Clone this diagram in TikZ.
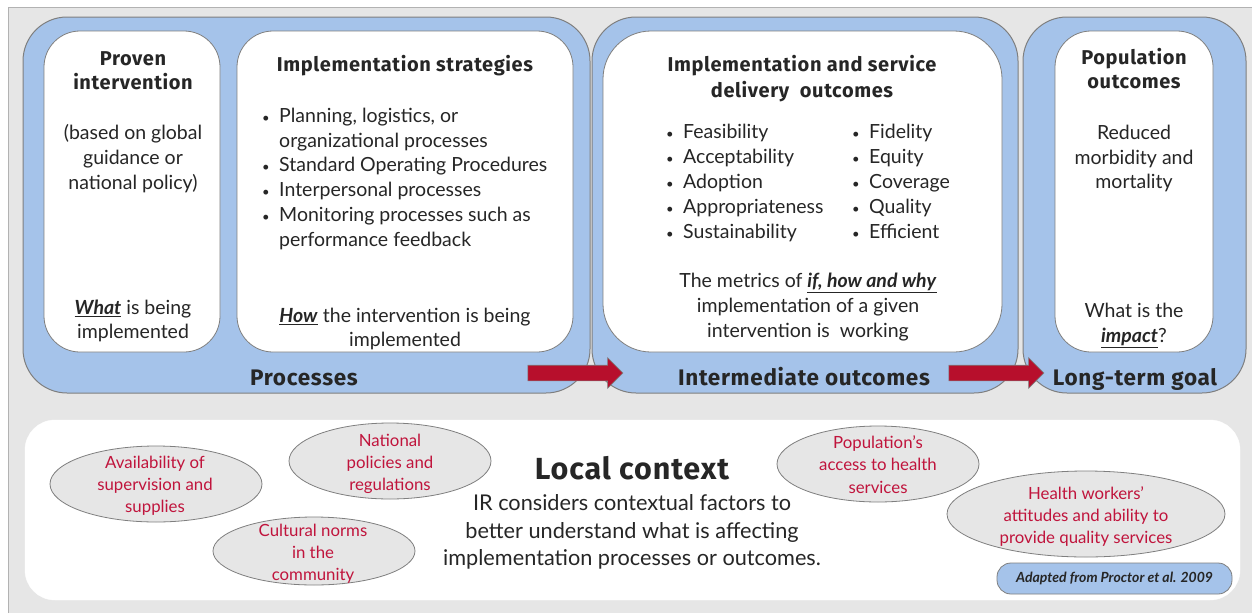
\documentclass[tikz,border=0pt]{standalone}
\usepackage{fontspec}
\setmainfont{Lato}
\newfontfamily\hdfont{Fira Sans}[LetterSpace=3]
\usetikzlibrary{shapes.geometric,shapes.arrows}
\definecolor{bggray}{HTML}{E6E6E6}
\definecolor{boxblue}{HTML}{A5C3EA}
\definecolor{edgegray}{HTML}{7F7F7F}
\definecolor{factred}{HTML}{C0143C}
\definecolor{arrred}{HTML}{B70F2C}
\definecolor{ink}{HTML}{262626}
\newcommand\bul{{\fontsize{13}{13}\selectfont\textbullet}}

\begin{document}
\begin{tikzpicture}[x=1pt,y=-1pt,
	bluebox/.style={draw=edgegray, fill=boxblue, line width=1pt, rounded corners=44pt},
	whitebox/.style={draw=edgegray, fill=white, line width=0.8pt, rounded corners=36pt},
	hd/.style={text=ink, font=\hdfont\bfseries\fontsize{20}{22}\selectfont, inner sep=0pt, anchor=mid, yshift=-5pt},
	txt/.style={text=ink, font=\fontsize{19.5}{22}\selectfont, inner sep=0pt, anchor=mid, yshift=-5pt},
	lbl/.style={text=ink, font=\hdfont\bfseries\fontsize{22.5}{24}\selectfont, inner sep=0pt, anchor=mid, yshift=-6pt},
	factor/.style={ellipse, draw=edgegray, fill=bggray, line width=0.8pt, inner sep=0pt},
	ftxt/.style={text=factred, font=\fontsize{16.8}{20}\selectfont, inner sep=0pt, anchor=mid, yshift=-4pt},
	bigarrow/.style={single arrow, fill=arrred, draw=edgegray, line width=0.6pt, minimum height=95pt, minimum width=30pt, single arrow head extend=7.5pt, inner xsep=0pt, inner ysep=7.5pt}]
	\useasboundingbox (0,0) rectangle (1252,613);
	\fill[bggray] (8,7) rectangle (1252,613);
	\draw[edgegray!60, line width=1pt] (8,613) -- (8,7) -- (1252,7);

	\node[bluebox, minimum width=567pt, minimum height=376pt] (procbox) at (306.5,205) {};
	\node[bluebox, minimum width=426pt, minimum height=376pt] (interbox) at (805,205) {};
	\node[bluebox, minimum width=223pt, minimum height=376pt] (goalbox) at (1134.5,205) {};
	\node[whitebox, minimum width=176pt, minimum height=321pt] (proven) at (132,191.5) {};
	\node[whitebox, minimum width=336pt, minimum height=321pt] (strat) at (405,191.5) {};
	\node[whitebox, minimum width=399pt, minimum height=321pt, rounded corners=48pt] (deliv) at (802.5,191.5) {};
	\node[whitebox, minimum width=158pt, minimum height=321pt] (popout) at (1134,191.5) {};

	\foreach \y/\t in {58/Proven,82/intervention}
		\node[hd] (pv-\y) at (133,\y) {\t};
	\foreach \y/\t in {132/(based on global,157/guidance or,182/national policy)}
		\node[txt] (pb-\y) at (133,\y) {\t};
	\node[txt] (pw-1) at (133,307) {\underline{\textbf{\textit{What}}} is being};
	\node[txt] (pw-2) at (133,331) {implemented};

	\node[hd] (st-0) at (405,64) {Implementation strategies};
	\foreach \y/\b/\t in {115/1/{Planning, logistics, or},140/0/organizational processes,164/1/Standard Operating Procedures,189/1/Interpersonal processes,214/1/Monitoring processes such as,239/0/performance feedback}{
		\node[txt, anchor=mid west] (st-\y) at (279,\y) {\t};
		\ifnum\b=1 \node[txt] (sb-\y) at (266,\y) {\bul}; \fi
	}
	\node[txt] (sh-1) at (405,315) {\underline{\textbf{\textit{How}}} the intervention is being};
	\node[txt] (sh-2) at (405,339) {implemented};

	\node[hd] (dv-1) at (802,64) {Implementation and service};
	\node[hd] (dv-2) at (802,90) {delivery\ \ outcomes};
	\foreach \t/\u [count=\i from 0] in {Feasibility/Fidelity,Acceptability/Equity,Adoption/Coverage,Appropriateness/Quality,Sustainability/Efficient}{
		\node[txt] (da-\i) at (670,131+25*\i) {\bul};
		\node[txt, anchor=mid west] (dl-\i) at (683,131+25*\i) {\t};
		\node[txt] (db-\i) at (856,131+25*\i) {\bul};
		\node[txt, anchor=mid west] (dr-\i) at (869,131+25*\i) {\u};
	}
	\node[txt] (dm-1) at (808,280) {The metrics of \underline{\textbf{\textit{if, how and why}}}};
	\node[txt] (dm-2) at (808,305) {implementation of a given};
	\node[txt] (dm-3) at (808,330) {intervention is\ \ working};

	\foreach \y/\t in {57/Population,81/outcomes}
		\node[hd] (po-\y) at (1134,\y) {\t};
	\foreach \y/\t in {132/Reduced,157/morbidity and,181/mortality,310/What is the}
		\node[txt] (pr-\y) at (1134,\y) {\t};
	\node[txt] (pi) at (1134,335) {\underline{\textbf{\textit{impact}}}?};

	\node[lbl] (proclbl) at (304,377) {Processes};
	\node[lbl] (interlbl) at (804,377) {Intermediate outcomes};
	\node[lbl] (goallbl) at (1135,377) {Long-term goal};
	\node[bigarrow] (arr-1) at (571.5,373) {};
	\node[bigarrow] (arr-2) at (992.5,373) {};

	\node[draw=white, fill=white, rounded corners=30pt, minimum width=1215pt, minimum height=180pt] (ctxbox) at (632.5,510) {};
	\node[text=ink, font=\hdfont\bfseries\fontsize{30.5}{34}\selectfont, inner sep=0pt, anchor=mid, yshift=-9pt] (ctx) at (632,468) {Local context};
	\foreach \y/\t in {502/IR considers contextual factors to,530/better understand what is affecting,557/implementation processes or outcomes.}
		\node[text=ink, font=\fontsize{21.7}{24}\selectfont, inner sep=0pt, anchor=mid, yshift=-6pt] (cx-\y) at (632,\y) {\t};

	\node[factor, minimum width=212pt, minimum height=76pt] (avail) at (156,484) {};
	\node[factor, minimum width=202pt, minimum height=76pt] (natl) at (390,461) {};
	\node[factor, minimum width=202pt, minimum height=68pt] (cult) at (314,551) {};
	\node[factor, minimum width=202pt, minimum height=76pt] (access) at (878,464) {};
	\node[factor, minimum width=278pt, minimum height=86pt] (hwork) at (1086,514) {};
	\foreach \y/\t in {462/Availability of,484/supervision and,506/supplies}
		\node[ftxt] (fa-\y) at (155,\y) {\t};
	\foreach \y/\t in {440/National,462/policies and,484/regulations}
		\node[ftxt] (fn-\y) at (390,\y) {\t};
	\foreach \y/\t in {530/Cultural norms,552/in the,574/community}
		\node[ftxt] (fc-\y) at (313,\y) {\t};
	\foreach \y/\t in {442/Population’s,464/access to health,487/services}
		\node[ftxt] (fp-\y) at (878,\y) {\t};
	\foreach \y/\t in {493/Health workers’,515/attitudes and ability to,537/provide quality services}
		\node[ftxt] (fh-\y) at (1086,\y) {\t};

	\node[draw=edgegray, fill=boxblue, line width=0.8pt, rounded corners=14pt, minimum width=235pt, minimum height=31pt, text=ink, font=\bfseries\itshape\fontsize{14}{16}\selectfont] (src) at (1114.5,578.5) {Adapted from Proctor et al. 2009};
\end{tikzpicture}
\end{document}
